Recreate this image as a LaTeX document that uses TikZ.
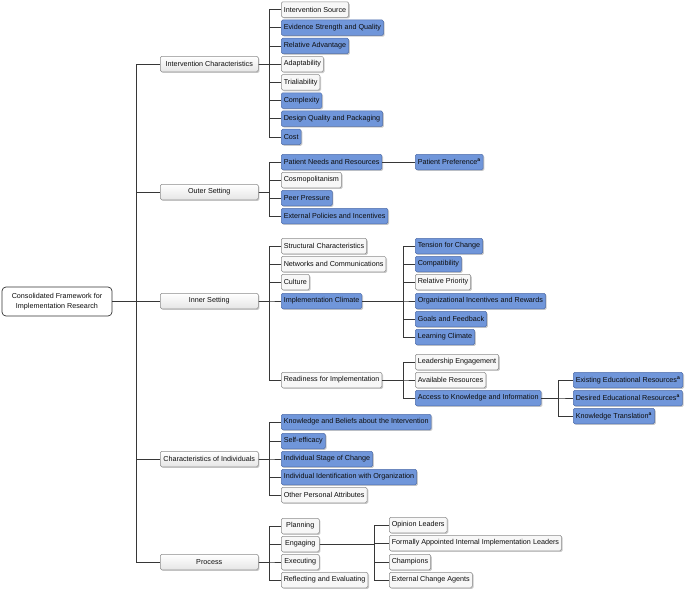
\documentclass[tikz,border=0pt]{standalone}
\usepackage{fontspec}
\setmainfont{Liberation Sans}
\usetikzlibrary{shadows}
\definecolor{cfblue}{RGB}{112,150,218}
\definecolor{cfblueline}{RGB}{80,110,170}
\definecolor{conncol}{RGB}{55,55,55}
\newcommand\supa{\textsuperscript{\textbf{a}}}
\tikzset{
  base/.style={anchor=west, rounded corners=1.5pt, inner xsep=2.5pt, inner ysep=0pt,
    minimum height=15.5pt, font=\fontsize{7.2}{8.5}\selectfont, text=black!95,
    drop shadow={shadow xshift=1.2pt, shadow yshift=-1.2pt, opacity=0.35, fill=black!60}},
  bluebox/.style={base, fill=cfblue, draw=cfblueline, line width=0.5pt},
  whitebox/.style={base, fill=black!3, draw=black!45, line width=0.5pt},
  lvlone/.style={base, minimum width=98pt, top color=white, bottom color=black!10, draw=black!45, line width=0.5pt},
  rootbox/.style={rounded corners=4pt, draw=black!80, fill=white, line width=0.7pt, minimum width=110pt,
    minimum height=29pt, align=center, font=\fontsize{7.2}{9.5}\selectfont, text=black!95},
  conn/.style={draw=conncol, line width=0.8pt}
}
\newcommand\tkid[3]{\draw[conn] (#1.east) -- (#1.east -| #2) |- (#3.west);}
\begin{document}
\begin{tikzpicture}[x=1pt,y=-1pt]
\useasboundingbox (0,0) rectangle (686,592);
% bus coordinates
\coordinate (b0) at (136,0);
\coordinate (b1) at (269,0);
\coordinate (b2) at (403,0);
\coordinate (b3) at (558,0);
\coordinate (b4) at (374,0);

\node[rootbox] (root) at (57,301.5) {Consolidated Framework for\\Implementation Research};

\node[lvlone] (ic) at (160,64) {Intervention Characteristics};
\node[lvlone] (os) at (160,192) {Outer Setting};
\node[lvlone] (is) at (160,301) {Inner Setting};
\node[lvlone] (ci) at (160,459) {Characteristics of Individuals};
\node[lvlone] (pr) at (160,562) {Process};

% Intervention characteristics
\node[whitebox] (ic1) at (281,9.5) {Intervention Source};
\node[bluebox] (ic2) at (281,27.7) {Evidence Strength and Quality};
\node[bluebox] (ic3) at (281,45.9) {Relative Advantage};
\node[whitebox] (ic4) at (281,64.1) {Adaptability};
\node[whitebox] (ic5) at (281,82.3) {Trialiability};
\node[bluebox] (ic6) at (281,100.5) {Complexity};
\node[bluebox] (ic7) at (281,118.7) {Design Quality and Packaging};
\node[bluebox] (ic8) at (281,136.9) {Cost};

% Outer setting
\node[bluebox] (os1) at (281,162) {Patient Needs and Resources};
\node[whitebox] (os2) at (281,180) {Cosmopolitanism};
\node[bluebox] (os3) at (281,198) {Peer Pressure};
\node[bluebox] (os4) at (281,216) {External Policies and Incentives};
\node[bluebox] (os5) at (415,162) {Patient Preference\supa};

% Inner setting
\node[whitebox] (is1) at (281,246) {Structural Characteristics};
\node[whitebox] (is2) at (281,264) {Networks and Communications};
\node[whitebox] (is3) at (281,282) {Culture};
\node[bluebox] (is4) at (281,301) {Implementation Climate};
\node[whitebox] (is5) at (281,380) {Readiness for Implementation};

\node[bluebox] (cl1) at (415,246) {Tension for Change};
\node[bluebox] (cl2) at (415,264) {Compatibility};
\node[whitebox] (cl3) at (415,282) {Relative Priority};
\node[bluebox] (cl4) at (415,301) {Organizational Incentives and Rewards};
\node[bluebox] (cl5) at (415,319) {Goals and Feedback};
\node[bluebox] (cl6) at (415,337) {Learning Climate};

\node[whitebox] (rd1) at (415,362) {Leadership Engagement};
\node[whitebox] (rd2) at (415,380) {Available Resources};
\node[bluebox] (rd3) at (415,398) {Access to Knowledge and Information};

\node[bluebox, minimum width=109pt] (ak1) at (573,380) {Existing Educational Resources\supa};
\node[bluebox, minimum width=109pt] (ak2) at (573,398) {Desired Educational Resources\supa};
\node[bluebox] (ak3) at (573,416) {Knowledge Translation\supa};

% Characteristics of individuals
\node[bluebox] (ci1) at (281,422) {Knowledge and Beliefs about the Intervention};
\node[bluebox] (ci2) at (281,441) {Self-efficacy};
\node[bluebox] (ci3) at (281,459) {Individual Stage of Change};
\node[bluebox] (ci4) at (281,477) {Individual Identification with Organization};
\node[whitebox] (ci5) at (281,495) {Other Personal Attributes};

% Process
\node[whitebox, minimum width=38pt] (pr1) at (281,526) {Planning};
\node[whitebox, minimum width=38pt] (pr2) at (281,544) {Engaging};
\node[whitebox, minimum width=38pt] (pr3) at (281,562) {Executing};
\node[whitebox] (pr4) at (281,580) {Reflecting and Evaluating};

\node[whitebox] (en1) at (389,525) {Opinion Leaders};
\node[whitebox] (en2) at (389,543) {Formally Appointed Internal Implementation Leaders};
\node[whitebox] (en3) at (389,562) {Champions};
\node[whitebox] (en4) at (389,580) {External Change Agents};

% connectors
\foreach \c in {ic,os,is,ci,pr} {\tkid{root}{b0}{\c}}
\foreach \c in {ic1,ic2,ic3,ic4,ic5,ic6,ic7,ic8} {\tkid{ic}{b1}{\c}}
\foreach \c in {os1,os2,os3,os4} {\tkid{os}{b1}{\c}}
\draw[conn] (os1.east) -- (os5.west);
\foreach \c in {is1,is2,is3,is4,is5} {\tkid{is}{b1}{\c}}
\foreach \c in {cl1,cl2,cl3,cl4,cl5,cl6} {\tkid{is4}{b2}{\c}}
\foreach \c in {rd1,rd2,rd3} {\tkid{is5}{b2}{\c}}
\foreach \c in {ak1,ak2,ak3} {\tkid{rd3}{b3}{\c}}
\foreach \c in {ci1,ci2,ci3,ci4,ci5} {\tkid{ci}{b1}{\c}}
\foreach \c in {pr1,pr2,pr3,pr4} {\tkid{pr}{b1}{\c}}
\foreach \c in {en1,en2,en3,en4} {\tkid{pr2}{b4}{\c}}
\end{tikzpicture}
\end{document}
